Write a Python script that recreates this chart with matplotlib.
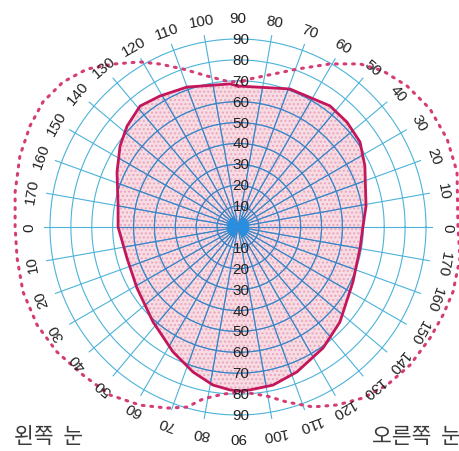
import numpy as np
import matplotlib
matplotlib.use("Agg")
import matplotlib.pyplot as plt
from matplotlib.patches import Polygon

# 시야 (solid) 경계: 각도(도), 반경(도)
solid_theta = [90, 69.4, 52.8, 43.9, 34.9, 25.7, 9.3, 0, -9.8, -25.6, -43, -54.9,
               -67.9, -77.5, -85.8, -90, -92.8, -99, -107.2, -117.5, -131.8, -148.9,
               -164.4, -180, -190, -204.4, -214.5, -222.3, -231, -239.2, -250, -266.8]
solid_r = [67.5, 70.6, 72.8, 72.4, 71.2, 67.4, 62.1, 59.8, 59.3, 61.0, 66.7, 70.8,
           74.9, 77.5, 78.2, 78.5, 78.1, 76.6, 72.7, 67.4, 61.0, 56.5,
           55.2, 57.4, 58.3, 63.6, 68.5, 71.8, 74.5, 73.0, 71.3, 68.6]

# 양안 최대 시야 (dotted) 경계
dotted_theta = [88, 85.4, 69.5, 60.6, 53.2, 47.1, 39.8, 31.6, 22.8, 14.1, 0,
                -7.9, -16.8, -23.2, -30, -38.7, -46.7, -53.8, -60.9, -67.4, -74.4, -80.3, -88.3,
                -95.1, -101.5, -105.8, -111.4, -118.8, -127.3, -136.3, -145.4, -154, -163.2, -172, -180,
                -188.9, -198, -205.9, -212.7, -219.6, -226.3, -232.5, -239.3, -244.4, -250.8, -258.4, -266.8]
dotted_r = [69.9, 71.1, 80.7, 89.6, 97.5, 102.0, 105.4, 107.9, 108.6, 108.1, 105.3,
            107.3, 107.5, 106.8, 106.2, 105.6, 104.0, 101.4, 97.5, 93.3, 87.0, 82.1, 79.0,
            80.3, 84.0, 89.6, 93.1, 97.3, 101.1, 102.6, 105.3, 107.0, 107.5, 106.8, 106.7,
            108.0, 109.8, 110.7, 110.9, 108.8, 104.6, 98.3, 91.9, 86.5, 80.1, 73.8, 69.5]

ring_values = [10, 20, 30, 40, 50, 60, 70, 80, 90]
spoke_angles = list(range(0, 360, 10))
spoke_labels = ["0", "10", "20", "30", "40", "50", "60", "70", "80",
                "90", "100", "110", "120", "130", "140", "150", "160", "170",
                "0", "10", "20", "30", "40", "50", "60", "70", "80",
                "90", "100", "110", "120", "130", "140", "150", "160", "170"]

GRID = "#4cb3da"
GRID_IN = "#3f7fc4"
PINK = "#f7dce4"
SOLID = "#c4165a"
DOTS = "#d43c76"
PX = 2.089  # px per degree


def polar_xy(theta_deg, r):
    t = np.radians(np.asarray(theta_deg, dtype=float))
    r = np.asarray(r, dtype=float)
    return r * np.cos(t), r * np.sin(t)


def draw_grid(ax, color, clip=None, z=2):
    arts = []
    t = np.linspace(0, 2 * np.pi, 400)
    for rv in ring_values:
        arts += ax.plot(rv * np.cos(t), rv * np.sin(t), color=color, lw=0.8, zorder=z)
    for a in spoke_angles:
        if a in (90, 270):
            continue
        x, y = polar_xy([a, a], [0, 93])
        arts += ax.plot(x, y, color=color, lw=0.8, zorder=z)
    # dense centre (bow-tie)
    for a in np.arange(0, 360, 5):
        if 65 < a % 180 < 115:
            continue
        x, y = polar_xy([a, a], [0, 5])
        arts += ax.plot(x, y, color="#2a8fe0", lw=0.9, zorder=z)
    if clip is not None:
        for art in arts:
            art.set_clip_path(clip)
    return arts


fig = plt.figure(figsize=(4.6, 4.52), dpi=100)
ax = fig.add_axes([0, 0, 1, 1])
ax.set_xlim(-238 / PX, 222 / PX)
ax.set_ylim(-224 / PX, 228 / PX)
ax.set_aspect("equal")
ax.axis("off")

sx, sy = polar_xy(solid_theta, solid_r)
field = Polygon(np.column_stack([sx, sy]), closed=True, facecolor=PINK,
                edgecolor="#eaa6bd", hatch="....", lw=0, zorder=1)
ax.add_patch(field)

draw_grid(ax, GRID)
draw_grid(ax, GRID_IN, clip=field, z=2.5)

ax.plot(np.append(sx, sx[0]), np.append(sy, sy[0]), color=SOLID, lw=2.0, zorder=4)

dx, dy = polar_xy(dotted_theta, dotted_r)
ax.plot(np.append(dx, dx[0]), np.append(dy, dy[0]), color=DOTS, lw=2.2,
        linestyle=(0, (0.6, 2.2)), dash_capstyle="round", zorder=4)

for a, lab in zip(spoke_angles, spoke_labels):
    x, y = polar_xy(a, 100)
    ax.text(x, y, lab, rotation=a - 90, rotation_mode="anchor", ha="center", va="center",
            fontsize=11, color="#222222", family="Liberation Sans", zorder=5)

for rv in ring_values:
    for sgn in (1, -1):
        ax.text(1.5, sgn * rv, str(rv), ha="center", va="center", fontsize=11,
                color="#222222", family="Liberation Sans", zorder=5)

fig.text(14 / 460, 1 - 437 / 452, "왼쪽  눈", ha="left", va="center", fontsize=15.5,
         color="#3a3a3a", family=["Noto Sans CJK KR", "DejaVu Sans"])
fig.text(372 / 460, 1 - 437 / 452, "오른쪽  눈", ha="left", va="center", fontsize=15.5,
         color="#3a3a3a", family=["Noto Sans CJK KR", "DejaVu Sans"])

fig.savefig("out.png", dpi=100, facecolor="white")
